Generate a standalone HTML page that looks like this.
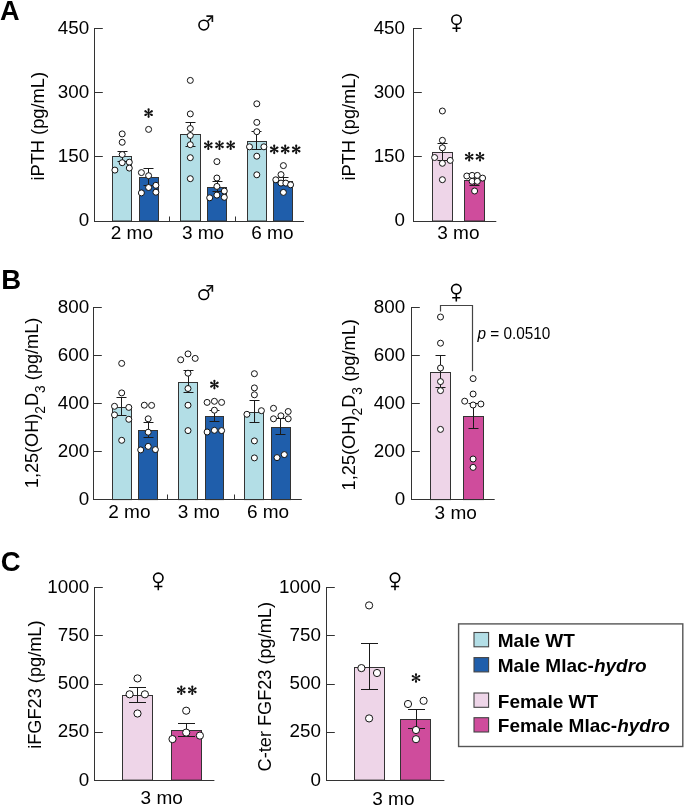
<!DOCTYPE html>
<html><head><meta charset="utf-8"><style>
html,body{margin:0;padding:0;background:#fff;}
svg{display:block;font-family:"Liberation Sans",sans-serif;}
.g{will-change:transform;}
text{fill:#000;}
</style></head><body>
<svg width="685" height="807" viewBox="0 0 685 807">
<g class="g">
<text x="0.1" y="20.4" font-size="28" font-weight="bold" textLength="19.6" lengthAdjust="spacingAndGlyphs">A</text>
<rect x="112.50" y="156.50" width="19.00" height="64.50" fill="#b3dee6" stroke="#333" stroke-width="1.0"/>
<rect x="139.50" y="177.50" width="19.00" height="43.50" fill="#1f5eab" stroke="#333" stroke-width="1.0"/>
<rect x="180.50" y="134.50" width="20.00" height="86.50" fill="#b3dee6" stroke="#333" stroke-width="1.0"/>
<rect x="207.50" y="187.50" width="19.00" height="33.50" fill="#1f5eab" stroke="#333" stroke-width="1.0"/>
<rect x="247.50" y="141.50" width="19.00" height="79.50" fill="#b3dee6" stroke="#333" stroke-width="1.0"/>
<rect x="273.50" y="181.50" width="19.00" height="39.50" fill="#1f5eab" stroke="#333" stroke-width="1.0"/>
<line x1="122.50" y1="151.50" x2="122.50" y2="161.50" stroke="#1a1a1a" stroke-width="1.05" stroke-linecap="butt"/>
<line x1="117.50" y1="151.50" x2="127.50" y2="151.50" stroke="#1a1a1a" stroke-width="1.05" stroke-linecap="butt"/>
<line x1="117.50" y1="161.50" x2="127.50" y2="161.50" stroke="#1a1a1a" stroke-width="1.05" stroke-linecap="butt"/>
<line x1="148.50" y1="168.50" x2="148.50" y2="185.50" stroke="#1a1a1a" stroke-width="1.05" stroke-linecap="butt"/>
<line x1="143.50" y1="168.50" x2="153.50" y2="168.50" stroke="#1a1a1a" stroke-width="1.05" stroke-linecap="butt"/>
<line x1="143.50" y1="185.50" x2="153.50" y2="185.50" stroke="#1a1a1a" stroke-width="1.05" stroke-linecap="butt"/>
<line x1="190.50" y1="122.50" x2="190.50" y2="146.50" stroke="#1a1a1a" stroke-width="1.05" stroke-linecap="butt"/>
<line x1="185.50" y1="122.50" x2="195.50" y2="122.50" stroke="#1a1a1a" stroke-width="1.05" stroke-linecap="butt"/>
<line x1="185.50" y1="146.50" x2="195.50" y2="146.50" stroke="#1a1a1a" stroke-width="1.05" stroke-linecap="butt"/>
<line x1="217.50" y1="181.50" x2="217.50" y2="191.50" stroke="#1a1a1a" stroke-width="1.05" stroke-linecap="butt"/>
<line x1="212.50" y1="181.50" x2="222.50" y2="181.50" stroke="#1a1a1a" stroke-width="1.05" stroke-linecap="butt"/>
<line x1="212.50" y1="191.50" x2="222.50" y2="191.50" stroke="#1a1a1a" stroke-width="1.05" stroke-linecap="butt"/>
<line x1="256.50" y1="131.50" x2="256.50" y2="149.50" stroke="#1a1a1a" stroke-width="1.05" stroke-linecap="butt"/>
<line x1="251.50" y1="131.50" x2="261.50" y2="131.50" stroke="#1a1a1a" stroke-width="1.05" stroke-linecap="butt"/>
<line x1="251.50" y1="149.50" x2="261.50" y2="149.50" stroke="#1a1a1a" stroke-width="1.05" stroke-linecap="butt"/>
<line x1="283.50" y1="177.50" x2="283.50" y2="184.50" stroke="#1a1a1a" stroke-width="1.05" stroke-linecap="butt"/>
<line x1="278.50" y1="177.50" x2="288.50" y2="177.50" stroke="#1a1a1a" stroke-width="1.05" stroke-linecap="butt"/>
<line x1="278.50" y1="184.50" x2="288.50" y2="184.50" stroke="#1a1a1a" stroke-width="1.05" stroke-linecap="butt"/>
<circle cx="122.20" cy="133.90" r="3.0" fill="#fff" stroke="#111" stroke-width="1.0"/>
<circle cx="122.20" cy="142.30" r="3.0" fill="#fff" stroke="#111" stroke-width="1.0"/>
<circle cx="122.20" cy="154.50" r="3.0" fill="#fff" stroke="#111" stroke-width="1.0"/>
<circle cx="122.20" cy="162.70" r="3.0" fill="#fff" stroke="#111" stroke-width="1.0"/>
<circle cx="129.30" cy="162.20" r="3.0" fill="#fff" stroke="#111" stroke-width="1.0"/>
<circle cx="129.30" cy="168.10" r="3.0" fill="#fff" stroke="#111" stroke-width="1.0"/>
<circle cx="114.90" cy="170.10" r="3.0" fill="#fff" stroke="#111" stroke-width="1.0"/>
<circle cx="148.60" cy="129.40" r="3.0" fill="#fff" stroke="#111" stroke-width="1.0"/>
<circle cx="141.40" cy="172.60" r="3.0" fill="#fff" stroke="#111" stroke-width="1.0"/>
<circle cx="148.60" cy="175.70" r="3.0" fill="#fff" stroke="#111" stroke-width="1.0"/>
<circle cx="155.90" cy="185.30" r="3.0" fill="#fff" stroke="#111" stroke-width="1.0"/>
<circle cx="148.60" cy="187.50" r="3.0" fill="#fff" stroke="#111" stroke-width="1.0"/>
<circle cx="141.40" cy="192.90" r="3.0" fill="#fff" stroke="#111" stroke-width="1.0"/>
<circle cx="155.90" cy="192.20" r="3.0" fill="#fff" stroke="#111" stroke-width="1.0"/>
<circle cx="190.30" cy="80.40" r="3.0" fill="#fff" stroke="#111" stroke-width="1.0"/>
<circle cx="190.30" cy="113.90" r="3.0" fill="#fff" stroke="#111" stroke-width="1.0"/>
<circle cx="190.30" cy="128.50" r="3.0" fill="#fff" stroke="#111" stroke-width="1.0"/>
<circle cx="190.30" cy="135.50" r="3.0" fill="#fff" stroke="#111" stroke-width="1.0"/>
<circle cx="190.30" cy="144.70" r="3.0" fill="#fff" stroke="#111" stroke-width="1.0"/>
<circle cx="190.30" cy="157.70" r="3.0" fill="#fff" stroke="#111" stroke-width="1.0"/>
<circle cx="190.30" cy="178.70" r="3.0" fill="#fff" stroke="#111" stroke-width="1.0"/>
<circle cx="216.90" cy="161.60" r="3.0" fill="#fff" stroke="#111" stroke-width="1.0"/>
<circle cx="216.90" cy="178.00" r="3.0" fill="#fff" stroke="#111" stroke-width="1.0"/>
<circle cx="216.90" cy="186.40" r="3.0" fill="#fff" stroke="#111" stroke-width="1.0"/>
<circle cx="224.30" cy="191.10" r="3.0" fill="#fff" stroke="#111" stroke-width="1.0"/>
<circle cx="216.90" cy="195.10" r="3.0" fill="#fff" stroke="#111" stroke-width="1.0"/>
<circle cx="209.70" cy="197.80" r="3.0" fill="#fff" stroke="#111" stroke-width="1.0"/>
<circle cx="224.30" cy="197.30" r="3.0" fill="#fff" stroke="#111" stroke-width="1.0"/>
<circle cx="256.80" cy="103.80" r="3.0" fill="#fff" stroke="#111" stroke-width="1.0"/>
<circle cx="256.80" cy="122.40" r="3.0" fill="#fff" stroke="#111" stroke-width="1.0"/>
<circle cx="256.80" cy="131.70" r="3.0" fill="#fff" stroke="#111" stroke-width="1.0"/>
<circle cx="249.50" cy="146.80" r="3.0" fill="#fff" stroke="#111" stroke-width="1.0"/>
<circle cx="263.90" cy="146.80" r="3.0" fill="#fff" stroke="#111" stroke-width="1.0"/>
<circle cx="256.80" cy="156.20" r="3.0" fill="#fff" stroke="#111" stroke-width="1.0"/>
<circle cx="256.80" cy="174.80" r="3.0" fill="#fff" stroke="#111" stroke-width="1.0"/>
<circle cx="283.40" cy="165.60" r="3.0" fill="#fff" stroke="#111" stroke-width="1.0"/>
<circle cx="281.00" cy="174.60" r="3.0" fill="#fff" stroke="#111" stroke-width="1.0"/>
<circle cx="275.80" cy="179.80" r="3.0" fill="#fff" stroke="#111" stroke-width="1.0"/>
<circle cx="281.00" cy="183.10" r="3.0" fill="#fff" stroke="#111" stroke-width="1.0"/>
<circle cx="285.80" cy="183.10" r="3.0" fill="#fff" stroke="#111" stroke-width="1.0"/>
<circle cx="290.60" cy="184.80" r="3.0" fill="#fff" stroke="#111" stroke-width="1.0"/>
<circle cx="283.40" cy="192.40" r="3.0" fill="#fff" stroke="#111" stroke-width="1.0"/>
<line x1="94.50" y1="28.00" x2="94.50" y2="222.00" stroke="#333" stroke-width="1.0" stroke-linecap="butt"/>
<line x1="94.00" y1="221.50" x2="304.00" y2="221.50" stroke="#333" stroke-width="1.0" stroke-linecap="butt"/>
<line x1="94.50" y1="221.50" x2="102.80" y2="221.50" stroke="#333" stroke-width="1.0" stroke-linecap="butt"/>
<text x="89.10" y="226.40" font-size="18.8" text-anchor="end" font-weight="normal">0</text>
<line x1="94.50" y1="156.50" x2="102.80" y2="156.50" stroke="#333" stroke-width="1.0" stroke-linecap="butt"/>
<text x="89.10" y="162.23" font-size="18.8" text-anchor="end" font-weight="normal">150</text>
<line x1="94.50" y1="92.50" x2="102.80" y2="92.50" stroke="#333" stroke-width="1.0" stroke-linecap="butt"/>
<text x="89.10" y="98.07" font-size="18.8" text-anchor="end" font-weight="normal">300</text>
<line x1="94.50" y1="28.50" x2="102.80" y2="28.50" stroke="#333" stroke-width="1.0" stroke-linecap="butt"/>
<text x="89.10" y="33.90" font-size="18.8" text-anchor="end" font-weight="normal">450</text>
<line x1="169.50" y1="216.50" x2="169.50" y2="221.50" stroke="#333" stroke-width="1.0" stroke-linecap="butt"/>
<line x1="235.50" y1="216.50" x2="235.50" y2="221.50" stroke="#333" stroke-width="1.0" stroke-linecap="butt"/>
<path d="M148.92,113.10L149.71,109.39A1.11,1.11 0 1 0 147.49,109.39L148.28,113.10ZM148.28,113.10L147.49,116.81A1.11,1.11 0 1 0 149.71,116.81L148.92,113.10ZM148.76,113.38L152.37,112.21A1.11,1.11 0 1 0 151.26,110.28L148.44,112.82ZM148.44,112.82L144.83,113.99A1.11,1.11 0 1 0 145.94,115.92L148.76,113.38ZM148.76,112.82L145.94,110.28A1.11,1.11 0 1 0 144.83,112.21L148.44,113.38ZM148.44,113.38L151.26,115.92A1.11,1.11 0 1 0 152.37,113.99L148.76,112.82Z" fill="#111"/>
<circle cx="148.60" cy="113.10" r="0.8" fill="#111"/>
<path d="M208.62,145.20L209.41,141.49A1.11,1.11 0 1 0 207.19,141.49L207.98,145.20ZM207.98,145.20L207.19,148.91A1.11,1.11 0 1 0 209.41,148.91L208.62,145.20ZM208.46,145.48L212.07,144.31A1.11,1.11 0 1 0 210.96,142.38L208.14,144.92ZM208.14,144.92L204.53,146.09A1.11,1.11 0 1 0 205.64,148.02L208.46,145.48ZM208.46,144.92L205.64,142.38A1.11,1.11 0 1 0 204.53,144.31L208.14,145.48ZM208.14,145.48L210.96,148.02A1.11,1.11 0 1 0 212.07,146.09L208.46,144.92Z" fill="#111"/>
<circle cx="208.30" cy="145.20" r="0.8" fill="#111"/>
<path d="M219.82,145.20L220.61,141.49A1.11,1.11 0 1 0 218.39,141.49L219.18,145.20ZM219.18,145.20L218.39,148.91A1.11,1.11 0 1 0 220.61,148.91L219.82,145.20ZM219.66,145.48L223.27,144.31A1.11,1.11 0 1 0 222.16,142.38L219.34,144.92ZM219.34,144.92L215.73,146.09A1.11,1.11 0 1 0 216.84,148.02L219.66,145.48ZM219.66,144.92L216.84,142.38A1.11,1.11 0 1 0 215.73,144.31L219.34,145.48ZM219.34,145.48L222.16,148.02A1.11,1.11 0 1 0 223.27,146.09L219.66,144.92Z" fill="#111"/>
<circle cx="219.50" cy="145.20" r="0.8" fill="#111"/>
<path d="M231.02,145.20L231.81,141.49A1.11,1.11 0 1 0 229.59,141.49L230.38,145.20ZM230.38,145.20L229.59,148.91A1.11,1.11 0 1 0 231.81,148.91L231.02,145.20ZM230.86,145.48L234.47,144.31A1.11,1.11 0 1 0 233.36,142.38L230.54,144.92ZM230.54,144.92L226.93,146.09A1.11,1.11 0 1 0 228.04,148.02L230.86,145.48ZM230.86,144.92L228.04,142.38A1.11,1.11 0 1 0 226.93,144.31L230.54,145.48ZM230.54,145.48L233.36,148.02A1.11,1.11 0 1 0 234.47,146.09L230.86,144.92Z" fill="#111"/>
<circle cx="230.70" cy="145.20" r="0.8" fill="#111"/>
<path d="M274.52,149.40L275.31,145.69A1.11,1.11 0 1 0 273.09,145.69L273.88,149.40ZM273.88,149.40L273.09,153.11A1.11,1.11 0 1 0 275.31,153.11L274.52,149.40ZM274.36,149.68L277.97,148.51A1.11,1.11 0 1 0 276.86,146.58L274.04,149.12ZM274.04,149.12L270.43,150.29A1.11,1.11 0 1 0 271.54,152.22L274.36,149.68ZM274.36,149.12L271.54,146.58A1.11,1.11 0 1 0 270.43,148.51L274.04,149.68ZM274.04,149.68L276.86,152.22A1.11,1.11 0 1 0 277.97,150.29L274.36,149.12Z" fill="#111"/>
<circle cx="274.20" cy="149.40" r="0.8" fill="#111"/>
<path d="M285.52,149.40L286.31,145.69A1.11,1.11 0 1 0 284.09,145.69L284.88,149.40ZM284.88,149.40L284.09,153.11A1.11,1.11 0 1 0 286.31,153.11L285.52,149.40ZM285.36,149.68L288.97,148.51A1.11,1.11 0 1 0 287.86,146.58L285.04,149.12ZM285.04,149.12L281.43,150.29A1.11,1.11 0 1 0 282.54,152.22L285.36,149.68ZM285.36,149.12L282.54,146.58A1.11,1.11 0 1 0 281.43,148.51L285.04,149.68ZM285.04,149.68L287.86,152.22A1.11,1.11 0 1 0 288.97,150.29L285.36,149.12Z" fill="#111"/>
<circle cx="285.20" cy="149.40" r="0.8" fill="#111"/>
<path d="M296.52,149.40L297.31,145.69A1.11,1.11 0 1 0 295.09,145.69L295.88,149.40ZM295.88,149.40L295.09,153.11A1.11,1.11 0 1 0 297.31,153.11L296.52,149.40ZM296.36,149.68L299.97,148.51A1.11,1.11 0 1 0 298.86,146.58L296.04,149.12ZM296.04,149.12L292.43,150.29A1.11,1.11 0 1 0 293.54,152.22L296.36,149.68ZM296.36,149.12L293.54,146.58A1.11,1.11 0 1 0 292.43,148.51L296.04,149.68ZM296.04,149.68L298.86,152.22A1.11,1.11 0 1 0 299.97,150.29L296.36,149.12Z" fill="#111"/>
<circle cx="296.20" cy="149.40" r="0.8" fill="#111"/>
<circle cx="203.8" cy="25.1" r="4.85" fill="none" stroke="#000" stroke-width="1.55"/>
<path d="M207.30,21.60L212.20,16.70" stroke="#111" stroke-width="1.45"/>
<path d="M206.40,16.10L212.40,16.10L212.40,22.10" stroke="#111" stroke-width="1.6" fill="none"/>
<text transform="translate(43.60,180.60) rotate(-90)" x="0" y="0" font-size="19" textLength="108.7" lengthAdjust="spacingAndGlyphs">iPTH (pg/mL)</text>
<text x="131.90" y="238.70" font-size="19" text-anchor="middle" font-weight="normal">2 mo</text>
<text x="203.00" y="238.70" font-size="19" text-anchor="middle" font-weight="normal">3 mo</text>
<text x="272.40" y="238.70" font-size="19" text-anchor="middle" font-weight="normal">6 mo</text>
<rect x="432.50" y="152.50" width="20.00" height="68.50" fill="#eed5e8" stroke="#333" stroke-width="1.0"/>
<rect x="464.50" y="180.50" width="20.00" height="40.50" fill="#cf4c9c" stroke="#333" stroke-width="1.0"/>
<line x1="442.50" y1="143.50" x2="442.50" y2="160.50" stroke="#1a1a1a" stroke-width="1.05" stroke-linecap="butt"/>
<line x1="437.50" y1="143.50" x2="447.50" y2="143.50" stroke="#1a1a1a" stroke-width="1.05" stroke-linecap="butt"/>
<line x1="437.50" y1="160.50" x2="447.50" y2="160.50" stroke="#1a1a1a" stroke-width="1.05" stroke-linecap="butt"/>
<line x1="474.50" y1="175.50" x2="474.50" y2="185.50" stroke="#1a1a1a" stroke-width="1.05" stroke-linecap="butt"/>
<line x1="469.50" y1="175.50" x2="479.50" y2="175.50" stroke="#1a1a1a" stroke-width="1.05" stroke-linecap="butt"/>
<line x1="469.50" y1="185.50" x2="479.50" y2="185.50" stroke="#1a1a1a" stroke-width="1.05" stroke-linecap="butt"/>
<circle cx="442.40" cy="111.00" r="3.0" fill="#fff" stroke="#111" stroke-width="1.0"/>
<circle cx="442.40" cy="140.30" r="3.0" fill="#fff" stroke="#111" stroke-width="1.0"/>
<circle cx="442.40" cy="147.80" r="3.0" fill="#fff" stroke="#111" stroke-width="1.0"/>
<circle cx="434.60" cy="157.50" r="3.0" fill="#fff" stroke="#111" stroke-width="1.0"/>
<circle cx="450.20" cy="160.40" r="3.0" fill="#fff" stroke="#111" stroke-width="1.0"/>
<circle cx="442.40" cy="163.30" r="3.0" fill="#fff" stroke="#111" stroke-width="1.0"/>
<circle cx="442.40" cy="179.70" r="3.0" fill="#fff" stroke="#111" stroke-width="1.0"/>
<circle cx="466.80" cy="176.00" r="3.0" fill="#fff" stroke="#111" stroke-width="1.0"/>
<circle cx="472.10" cy="175.40" r="3.0" fill="#fff" stroke="#111" stroke-width="1.0"/>
<circle cx="477.30" cy="175.40" r="3.0" fill="#fff" stroke="#111" stroke-width="1.0"/>
<circle cx="482.60" cy="178.10" r="3.0" fill="#fff" stroke="#111" stroke-width="1.0"/>
<circle cx="472.10" cy="181.30" r="3.0" fill="#fff" stroke="#111" stroke-width="1.0"/>
<circle cx="477.30" cy="181.30" r="3.0" fill="#fff" stroke="#111" stroke-width="1.0"/>
<circle cx="474.60" cy="191.00" r="3.0" fill="#fff" stroke="#111" stroke-width="1.0"/>
<line x1="413.50" y1="28.00" x2="413.50" y2="222.00" stroke="#333" stroke-width="1.0" stroke-linecap="butt"/>
<line x1="413.00" y1="221.50" x2="496.30" y2="221.50" stroke="#333" stroke-width="1.0" stroke-linecap="butt"/>
<line x1="413.50" y1="221.50" x2="421.80" y2="221.50" stroke="#333" stroke-width="1.0" stroke-linecap="butt"/>
<text x="405.00" y="226.40" font-size="18.8" text-anchor="end" font-weight="normal">0</text>
<line x1="413.50" y1="156.50" x2="421.80" y2="156.50" stroke="#333" stroke-width="1.0" stroke-linecap="butt"/>
<text x="405.00" y="162.23" font-size="18.8" text-anchor="end" font-weight="normal">150</text>
<line x1="413.50" y1="92.50" x2="421.80" y2="92.50" stroke="#333" stroke-width="1.0" stroke-linecap="butt"/>
<text x="405.00" y="98.07" font-size="18.8" text-anchor="end" font-weight="normal">300</text>
<line x1="413.50" y1="28.50" x2="421.80" y2="28.50" stroke="#333" stroke-width="1.0" stroke-linecap="butt"/>
<text x="405.00" y="33.90" font-size="18.8" text-anchor="end" font-weight="normal">450</text>
<path d="M469.52,156.70L470.31,152.99A1.11,1.11 0 1 0 468.09,152.99L468.88,156.70ZM468.88,156.70L468.09,160.41A1.11,1.11 0 1 0 470.31,160.41L469.52,156.70ZM469.36,156.98L472.97,155.81A1.11,1.11 0 1 0 471.86,153.88L469.04,156.42ZM469.04,156.42L465.43,157.59A1.11,1.11 0 1 0 466.54,159.52L469.36,156.98ZM469.36,156.42L466.54,153.88A1.11,1.11 0 1 0 465.43,155.81L469.04,156.98ZM469.04,156.98L471.86,159.52A1.11,1.11 0 1 0 472.97,157.59L469.36,156.42Z" fill="#111"/>
<circle cx="469.20" cy="156.70" r="0.8" fill="#111"/>
<path d="M480.32,156.70L481.11,152.99A1.11,1.11 0 1 0 478.89,152.99L479.68,156.70ZM479.68,156.70L478.89,160.41A1.11,1.11 0 1 0 481.11,160.41L480.32,156.70ZM480.16,156.98L483.77,155.81A1.11,1.11 0 1 0 482.66,153.88L479.84,156.42ZM479.84,156.42L476.23,157.59A1.11,1.11 0 1 0 477.34,159.52L480.16,156.98ZM480.16,156.42L477.34,153.88A1.11,1.11 0 1 0 476.23,155.81L479.84,156.98ZM479.84,156.98L482.66,159.52A1.11,1.11 0 1 0 483.77,157.59L480.16,156.42Z" fill="#111"/>
<circle cx="480.00" cy="156.70" r="0.8" fill="#111"/>
<circle cx="456.5" cy="19.7" r="4.7" fill="none" stroke="#000" stroke-width="1.6"/>
<path d="M456.50,24.50L456.50,32.10M452.40,28.30L460.60,28.30" stroke="#000" stroke-width="1.55"/>
<text transform="translate(355.20,180.60) rotate(-90)" x="0" y="0" font-size="19" textLength="108.0" lengthAdjust="spacingAndGlyphs">iPTH (pg/mL)</text>
<text x="458.40" y="238.90" font-size="19" text-anchor="middle" font-weight="normal">3 mo</text>
<text x="1.2" y="288.6" font-size="27.5" font-weight="bold">B</text>
<rect x="112.50" y="407.50" width="19.00" height="92.10" fill="#b3dee6" stroke="#333" stroke-width="1.0"/>
<rect x="138.50" y="430.50" width="19.00" height="69.10" fill="#1f5eab" stroke="#333" stroke-width="1.0"/>
<rect x="178.50" y="382.50" width="19.00" height="117.10" fill="#b3dee6" stroke="#333" stroke-width="1.0"/>
<rect x="205.50" y="416.50" width="18.00" height="83.10" fill="#1f5eab" stroke="#333" stroke-width="1.0"/>
<rect x="244.50" y="412.50" width="19.00" height="87.10" fill="#b3dee6" stroke="#333" stroke-width="1.0"/>
<rect x="271.50" y="427.50" width="19.00" height="72.10" fill="#1f5eab" stroke="#333" stroke-width="1.0"/>
<line x1="121.50" y1="397.50" x2="121.50" y2="415.50" stroke="#1a1a1a" stroke-width="1.05" stroke-linecap="butt"/>
<line x1="116.50" y1="397.50" x2="126.50" y2="397.50" stroke="#1a1a1a" stroke-width="1.05" stroke-linecap="butt"/>
<line x1="116.50" y1="415.50" x2="126.50" y2="415.50" stroke="#1a1a1a" stroke-width="1.05" stroke-linecap="butt"/>
<line x1="148.50" y1="422.50" x2="148.50" y2="437.50" stroke="#1a1a1a" stroke-width="1.05" stroke-linecap="butt"/>
<line x1="143.50" y1="422.50" x2="153.50" y2="422.50" stroke="#1a1a1a" stroke-width="1.05" stroke-linecap="butt"/>
<line x1="143.50" y1="437.50" x2="153.50" y2="437.50" stroke="#1a1a1a" stroke-width="1.05" stroke-linecap="butt"/>
<line x1="188.50" y1="370.50" x2="188.50" y2="392.50" stroke="#1a1a1a" stroke-width="1.05" stroke-linecap="butt"/>
<line x1="183.50" y1="370.50" x2="193.50" y2="370.50" stroke="#1a1a1a" stroke-width="1.05" stroke-linecap="butt"/>
<line x1="183.50" y1="392.50" x2="193.50" y2="392.50" stroke="#1a1a1a" stroke-width="1.05" stroke-linecap="butt"/>
<line x1="214.50" y1="410.50" x2="214.50" y2="421.50" stroke="#1a1a1a" stroke-width="1.05" stroke-linecap="butt"/>
<line x1="209.50" y1="410.50" x2="219.50" y2="410.50" stroke="#1a1a1a" stroke-width="1.05" stroke-linecap="butt"/>
<line x1="209.50" y1="421.50" x2="219.50" y2="421.50" stroke="#1a1a1a" stroke-width="1.05" stroke-linecap="butt"/>
<line x1="254.50" y1="400.50" x2="254.50" y2="422.50" stroke="#1a1a1a" stroke-width="1.05" stroke-linecap="butt"/>
<line x1="249.50" y1="400.50" x2="259.50" y2="400.50" stroke="#1a1a1a" stroke-width="1.05" stroke-linecap="butt"/>
<line x1="249.50" y1="422.50" x2="259.50" y2="422.50" stroke="#1a1a1a" stroke-width="1.05" stroke-linecap="butt"/>
<line x1="280.50" y1="418.50" x2="280.50" y2="434.50" stroke="#1a1a1a" stroke-width="1.05" stroke-linecap="butt"/>
<line x1="275.50" y1="418.50" x2="285.50" y2="418.50" stroke="#1a1a1a" stroke-width="1.05" stroke-linecap="butt"/>
<line x1="275.50" y1="434.50" x2="285.50" y2="434.50" stroke="#1a1a1a" stroke-width="1.05" stroke-linecap="butt"/>
<circle cx="121.70" cy="363.40" r="3.0" fill="#fff" stroke="#111" stroke-width="1.0"/>
<circle cx="121.70" cy="392.90" r="3.0" fill="#fff" stroke="#111" stroke-width="1.0"/>
<circle cx="114.50" cy="406.30" r="3.0" fill="#fff" stroke="#111" stroke-width="1.0"/>
<circle cx="128.80" cy="407.40" r="3.0" fill="#fff" stroke="#111" stroke-width="1.0"/>
<circle cx="114.50" cy="414.90" r="3.0" fill="#fff" stroke="#111" stroke-width="1.0"/>
<circle cx="128.80" cy="419.30" r="3.0" fill="#fff" stroke="#111" stroke-width="1.0"/>
<circle cx="121.70" cy="440.30" r="3.0" fill="#fff" stroke="#111" stroke-width="1.0"/>
<circle cx="144.30" cy="405.20" r="3.0" fill="#fff" stroke="#111" stroke-width="1.0"/>
<circle cx="151.60" cy="405.40" r="3.0" fill="#fff" stroke="#111" stroke-width="1.0"/>
<circle cx="148.20" cy="418.80" r="3.0" fill="#fff" stroke="#111" stroke-width="1.0"/>
<circle cx="148.20" cy="432.20" r="3.0" fill="#fff" stroke="#111" stroke-width="1.0"/>
<circle cx="148.20" cy="446.40" r="3.0" fill="#fff" stroke="#111" stroke-width="1.0"/>
<circle cx="140.70" cy="449.90" r="3.0" fill="#fff" stroke="#111" stroke-width="1.0"/>
<circle cx="155.40" cy="449.60" r="3.0" fill="#fff" stroke="#111" stroke-width="1.0"/>
<circle cx="188.00" cy="353.90" r="3.0" fill="#fff" stroke="#111" stroke-width="1.0"/>
<circle cx="180.70" cy="359.80" r="3.0" fill="#fff" stroke="#111" stroke-width="1.0"/>
<circle cx="195.20" cy="358.40" r="3.0" fill="#fff" stroke="#111" stroke-width="1.0"/>
<circle cx="188.00" cy="373.20" r="3.0" fill="#fff" stroke="#111" stroke-width="1.0"/>
<circle cx="188.00" cy="388.50" r="3.0" fill="#fff" stroke="#111" stroke-width="1.0"/>
<circle cx="188.00" cy="405.20" r="3.0" fill="#fff" stroke="#111" stroke-width="1.0"/>
<circle cx="188.00" cy="430.60" r="3.0" fill="#fff" stroke="#111" stroke-width="1.0"/>
<circle cx="207.10" cy="402.40" r="3.0" fill="#fff" stroke="#111" stroke-width="1.0"/>
<circle cx="214.40" cy="401.30" r="3.0" fill="#fff" stroke="#111" stroke-width="1.0"/>
<circle cx="221.60" cy="402.40" r="3.0" fill="#fff" stroke="#111" stroke-width="1.0"/>
<circle cx="214.40" cy="410.20" r="3.0" fill="#fff" stroke="#111" stroke-width="1.0"/>
<circle cx="207.10" cy="432.00" r="3.0" fill="#fff" stroke="#111" stroke-width="1.0"/>
<circle cx="214.40" cy="430.30" r="3.0" fill="#fff" stroke="#111" stroke-width="1.0"/>
<circle cx="221.60" cy="430.60" r="3.0" fill="#fff" stroke="#111" stroke-width="1.0"/>
<circle cx="254.40" cy="373.70" r="3.0" fill="#fff" stroke="#111" stroke-width="1.0"/>
<circle cx="254.40" cy="387.90" r="3.0" fill="#fff" stroke="#111" stroke-width="1.0"/>
<circle cx="254.40" cy="394.80" r="3.0" fill="#fff" stroke="#111" stroke-width="1.0"/>
<circle cx="261.40" cy="410.70" r="3.0" fill="#fff" stroke="#111" stroke-width="1.0"/>
<circle cx="246.90" cy="414.30" r="3.0" fill="#fff" stroke="#111" stroke-width="1.0"/>
<circle cx="254.40" cy="440.90" r="3.0" fill="#fff" stroke="#111" stroke-width="1.0"/>
<circle cx="254.40" cy="457.90" r="3.0" fill="#fff" stroke="#111" stroke-width="1.0"/>
<circle cx="273.50" cy="408.30" r="3.0" fill="#fff" stroke="#111" stroke-width="1.0"/>
<circle cx="288.20" cy="411.50" r="3.0" fill="#fff" stroke="#111" stroke-width="1.0"/>
<circle cx="280.90" cy="415.80" r="3.0" fill="#fff" stroke="#111" stroke-width="1.0"/>
<circle cx="273.50" cy="418.80" r="3.0" fill="#fff" stroke="#111" stroke-width="1.0"/>
<circle cx="288.20" cy="418.80" r="3.0" fill="#fff" stroke="#111" stroke-width="1.0"/>
<circle cx="277.00" cy="457.60" r="3.0" fill="#fff" stroke="#111" stroke-width="1.0"/>
<circle cx="284.30" cy="454.60" r="3.0" fill="#fff" stroke="#111" stroke-width="1.0"/>
<line x1="93.50" y1="307.00" x2="93.50" y2="500.00" stroke="#333" stroke-width="1.0" stroke-linecap="butt"/>
<line x1="93.00" y1="499.50" x2="301.80" y2="499.50" stroke="#333" stroke-width="1.0" stroke-linecap="butt"/>
<line x1="93.50" y1="499.50" x2="101.80" y2="499.50" stroke="#333" stroke-width="1.0" stroke-linecap="butt"/>
<text x="89.20" y="505.00" font-size="18.8" text-anchor="end" font-weight="normal">0</text>
<line x1="93.50" y1="451.50" x2="101.80" y2="451.50" stroke="#333" stroke-width="1.0" stroke-linecap="butt"/>
<text x="89.20" y="456.95" font-size="18.8" text-anchor="end" font-weight="normal">200</text>
<line x1="93.50" y1="403.50" x2="101.80" y2="403.50" stroke="#333" stroke-width="1.0" stroke-linecap="butt"/>
<text x="89.20" y="408.90" font-size="18.8" text-anchor="end" font-weight="normal">400</text>
<line x1="93.50" y1="355.50" x2="101.80" y2="355.50" stroke="#333" stroke-width="1.0" stroke-linecap="butt"/>
<text x="89.20" y="360.85" font-size="18.8" text-anchor="end" font-weight="normal">600</text>
<line x1="93.50" y1="307.50" x2="101.80" y2="307.50" stroke="#333" stroke-width="1.0" stroke-linecap="butt"/>
<text x="89.20" y="312.80" font-size="18.8" text-anchor="end" font-weight="normal">800</text>
<line x1="167.50" y1="494.50" x2="167.50" y2="499.50" stroke="#333" stroke-width="1.0" stroke-linecap="butt"/>
<line x1="234.50" y1="494.50" x2="234.50" y2="499.50" stroke="#333" stroke-width="1.0" stroke-linecap="butt"/>
<path d="M214.72,384.60L215.51,380.89A1.11,1.11 0 1 0 213.29,380.89L214.08,384.60ZM214.08,384.60L213.29,388.31A1.11,1.11 0 1 0 215.51,388.31L214.72,384.60ZM214.56,384.88L218.17,383.71A1.11,1.11 0 1 0 217.06,381.78L214.24,384.32ZM214.24,384.32L210.63,385.49A1.11,1.11 0 1 0 211.74,387.42L214.56,384.88ZM214.56,384.32L211.74,381.78A1.11,1.11 0 1 0 210.63,383.71L214.24,384.88ZM214.24,384.88L217.06,387.42A1.11,1.11 0 1 0 218.17,385.49L214.56,384.32Z" fill="#111"/>
<circle cx="214.40" cy="384.60" r="0.8" fill="#111"/>
<circle cx="203.8" cy="294.7" r="4.85" fill="none" stroke="#000" stroke-width="1.55"/>
<path d="M207.30,291.20L212.20,286.30" stroke="#111" stroke-width="1.45"/>
<path d="M206.40,285.70L212.40,285.70L212.40,291.70" stroke="#111" stroke-width="1.6" fill="none"/>
<text transform="translate(38.20,488.20) rotate(-90)" x="0" y="0" font-size="19" textLength="170.5" lengthAdjust="spacingAndGlyphs">1,25(OH)<tspan font-size="14.5" dy="6.8">2</tspan><tspan dy="-6.8">D</tspan><tspan font-size="14.5" dy="6.8">3</tspan><tspan dy="-6.8"> (pg/mL)</tspan></text>
<text x="129.40" y="518.40" font-size="19" text-anchor="middle" font-weight="normal">2 mo</text>
<text x="198.80" y="518.40" font-size="19" text-anchor="middle" font-weight="normal">3 mo</text>
<text x="268.00" y="518.40" font-size="19" text-anchor="middle" font-weight="normal">6 mo</text>
<rect x="430.50" y="372.50" width="20.00" height="127.10" fill="#eed5e8" stroke="#333" stroke-width="1.0"/>
<rect x="463.50" y="416.50" width="20.00" height="83.10" fill="#cf4c9c" stroke="#333" stroke-width="1.0"/>
<line x1="440.50" y1="355.50" x2="440.50" y2="387.50" stroke="#1a1a1a" stroke-width="1.05" stroke-linecap="butt"/>
<line x1="435.50" y1="355.50" x2="445.50" y2="355.50" stroke="#1a1a1a" stroke-width="1.05" stroke-linecap="butt"/>
<line x1="435.50" y1="387.50" x2="445.50" y2="387.50" stroke="#1a1a1a" stroke-width="1.05" stroke-linecap="butt"/>
<line x1="473.50" y1="403.50" x2="473.50" y2="428.50" stroke="#1a1a1a" stroke-width="1.05" stroke-linecap="butt"/>
<line x1="468.50" y1="403.50" x2="478.50" y2="403.50" stroke="#1a1a1a" stroke-width="1.05" stroke-linecap="butt"/>
<line x1="468.50" y1="428.50" x2="478.50" y2="428.50" stroke="#1a1a1a" stroke-width="1.05" stroke-linecap="butt"/>
<circle cx="440.50" cy="317.00" r="3.0" fill="#fff" stroke="#111" stroke-width="1.0"/>
<circle cx="440.50" cy="343.20" r="3.0" fill="#fff" stroke="#111" stroke-width="1.0"/>
<circle cx="440.50" cy="368.00" r="3.0" fill="#fff" stroke="#111" stroke-width="1.0"/>
<circle cx="440.50" cy="381.60" r="3.0" fill="#fff" stroke="#111" stroke-width="1.0"/>
<circle cx="440.50" cy="390.60" r="3.0" fill="#fff" stroke="#111" stroke-width="1.0"/>
<circle cx="440.50" cy="429.40" r="3.0" fill="#fff" stroke="#111" stroke-width="1.0"/>
<circle cx="473.10" cy="378.60" r="3.0" fill="#fff" stroke="#111" stroke-width="1.0"/>
<circle cx="473.10" cy="394.00" r="3.0" fill="#fff" stroke="#111" stroke-width="1.0"/>
<circle cx="464.70" cy="401.20" r="3.0" fill="#fff" stroke="#111" stroke-width="1.0"/>
<circle cx="473.10" cy="405.00" r="3.0" fill="#fff" stroke="#111" stroke-width="1.0"/>
<circle cx="480.90" cy="404.00" r="3.0" fill="#fff" stroke="#111" stroke-width="1.0"/>
<circle cx="473.10" cy="459.00" r="3.0" fill="#fff" stroke="#111" stroke-width="1.0"/>
<circle cx="473.10" cy="467.40" r="3.0" fill="#fff" stroke="#111" stroke-width="1.0"/>
<line x1="411.50" y1="307.00" x2="411.50" y2="500.00" stroke="#333" stroke-width="1.0" stroke-linecap="butt"/>
<line x1="411.00" y1="499.50" x2="494.70" y2="499.50" stroke="#333" stroke-width="1.0" stroke-linecap="butt"/>
<line x1="411.50" y1="499.50" x2="419.80" y2="499.50" stroke="#333" stroke-width="1.0" stroke-linecap="butt"/>
<text x="405.20" y="505.00" font-size="18.8" text-anchor="end" font-weight="normal">0</text>
<line x1="411.50" y1="451.50" x2="419.80" y2="451.50" stroke="#333" stroke-width="1.0" stroke-linecap="butt"/>
<text x="405.20" y="456.95" font-size="18.8" text-anchor="end" font-weight="normal">200</text>
<line x1="411.50" y1="403.50" x2="419.80" y2="403.50" stroke="#333" stroke-width="1.0" stroke-linecap="butt"/>
<text x="405.20" y="408.90" font-size="18.8" text-anchor="end" font-weight="normal">400</text>
<line x1="411.50" y1="355.50" x2="419.80" y2="355.50" stroke="#333" stroke-width="1.0" stroke-linecap="butt"/>
<text x="405.20" y="360.85" font-size="18.8" text-anchor="end" font-weight="normal">600</text>
<line x1="411.50" y1="307.50" x2="419.80" y2="307.50" stroke="#333" stroke-width="1.0" stroke-linecap="butt"/>
<text x="405.20" y="312.80" font-size="18.8" text-anchor="end" font-weight="normal">800</text>
<path d="M440.5,311.4V305.5H472.5V371.2" fill="none" stroke="#444" stroke-width="1.2"/>
<circle cx="456.3" cy="289.1" r="4.7" fill="none" stroke="#000" stroke-width="1.6"/>
<path d="M456.30,293.90L456.30,301.50M452.20,297.70L460.40,297.70" stroke="#000" stroke-width="1.55"/>
<text x="477.4" y="338.7" font-size="16.4" textLength="73.0" lengthAdjust="spacingAndGlyphs"><tspan font-style="italic">p</tspan> = 0.0510</text>
<text transform="translate(355.00,490.40) rotate(-90)" x="0" y="0" font-size="19" textLength="171.3" lengthAdjust="spacingAndGlyphs">1,25(OH)<tspan font-size="14.5" dy="6.8">2</tspan><tspan dy="-6.8">D</tspan><tspan font-size="14.5" dy="6.8">3</tspan><tspan dy="-6.8"> (pg/mL)</tspan></text>
<text x="455.70" y="518.80" font-size="19" text-anchor="middle" font-weight="normal">3 mo</text>
<text x="0.8" y="571.0" font-size="27.5" font-weight="bold">C</text>
<rect x="122.50" y="695.50" width="30.00" height="84.60" fill="#eed5e8" stroke="#333" stroke-width="1.0"/>
<rect x="171.50" y="730.50" width="30.00" height="49.60" fill="#cf4c9c" stroke="#333" stroke-width="1.0"/>
<line x1="137.50" y1="687.50" x2="137.50" y2="702.50" stroke="#1a1a1a" stroke-width="1.05" stroke-linecap="butt"/>
<line x1="129.00" y1="687.50" x2="146.00" y2="687.50" stroke="#1a1a1a" stroke-width="1.05" stroke-linecap="butt"/>
<line x1="129.00" y1="702.50" x2="146.00" y2="702.50" stroke="#1a1a1a" stroke-width="1.05" stroke-linecap="butt"/>
<line x1="186.50" y1="723.50" x2="186.50" y2="736.50" stroke="#1a1a1a" stroke-width="1.05" stroke-linecap="butt"/>
<line x1="178.00" y1="723.50" x2="195.00" y2="723.50" stroke="#1a1a1a" stroke-width="1.05" stroke-linecap="butt"/>
<line x1="178.00" y1="736.50" x2="195.00" y2="736.50" stroke="#1a1a1a" stroke-width="1.05" stroke-linecap="butt"/>
<circle cx="137.50" cy="678.40" r="3.6" fill="#fff" stroke="#111" stroke-width="1.0"/>
<circle cx="129.60" cy="694.30" r="3.6" fill="#fff" stroke="#111" stroke-width="1.0"/>
<circle cx="144.90" cy="694.30" r="3.6" fill="#fff" stroke="#111" stroke-width="1.0"/>
<circle cx="137.50" cy="713.50" r="3.6" fill="#fff" stroke="#111" stroke-width="1.0"/>
<circle cx="186.20" cy="710.70" r="3.6" fill="#fff" stroke="#111" stroke-width="1.0"/>
<circle cx="186.20" cy="732.60" r="3.6" fill="#fff" stroke="#111" stroke-width="1.0"/>
<circle cx="172.50" cy="739.10" r="3.6" fill="#fff" stroke="#111" stroke-width="1.0"/>
<circle cx="199.90" cy="735.60" r="3.6" fill="#fff" stroke="#111" stroke-width="1.0"/>
<line x1="94.50" y1="587.00" x2="94.50" y2="781.00" stroke="#333" stroke-width="1.0" stroke-linecap="butt"/>
<line x1="94.00" y1="780.50" x2="214.40" y2="780.50" stroke="#333" stroke-width="1.0" stroke-linecap="butt"/>
<line x1="94.50" y1="780.50" x2="102.80" y2="780.50" stroke="#333" stroke-width="1.0" stroke-linecap="butt"/>
<text x="89.10" y="785.50" font-size="18.8" text-anchor="end" font-weight="normal">0</text>
<line x1="94.50" y1="732.50" x2="102.80" y2="732.50" stroke="#333" stroke-width="1.0" stroke-linecap="butt"/>
<text x="89.10" y="737.45" font-size="18.8" text-anchor="end" font-weight="normal">250</text>
<line x1="94.50" y1="684.50" x2="102.80" y2="684.50" stroke="#333" stroke-width="1.0" stroke-linecap="butt"/>
<text x="89.10" y="689.40" font-size="18.8" text-anchor="end" font-weight="normal">500</text>
<line x1="94.50" y1="635.50" x2="102.80" y2="635.50" stroke="#333" stroke-width="1.0" stroke-linecap="butt"/>
<text x="89.10" y="641.35" font-size="18.8" text-anchor="end" font-weight="normal">750</text>
<line x1="94.50" y1="587.50" x2="102.80" y2="587.50" stroke="#333" stroke-width="1.0" stroke-linecap="butt"/>
<text x="89.10" y="593.30" font-size="18.8" text-anchor="end" font-weight="normal">1000</text>
<path d="M181.62,690.20L182.41,686.49A1.11,1.11 0 1 0 180.19,686.49L180.98,690.20ZM180.98,690.20L180.19,693.91A1.11,1.11 0 1 0 182.41,693.91L181.62,690.20ZM181.46,690.48L185.07,689.31A1.11,1.11 0 1 0 183.96,687.38L181.14,689.92ZM181.14,689.92L177.53,691.09A1.11,1.11 0 1 0 178.64,693.02L181.46,690.48ZM181.46,689.92L178.64,687.38A1.11,1.11 0 1 0 177.53,689.31L181.14,690.48ZM181.14,690.48L183.96,693.02A1.11,1.11 0 1 0 185.07,691.09L181.46,689.92Z" fill="#111"/>
<circle cx="181.30" cy="690.20" r="0.8" fill="#111"/>
<path d="M192.62,690.20L193.41,686.49A1.11,1.11 0 1 0 191.19,686.49L191.98,690.20ZM191.98,690.20L191.19,693.91A1.11,1.11 0 1 0 193.41,693.91L192.62,690.20ZM192.46,690.48L196.07,689.31A1.11,1.11 0 1 0 194.96,687.38L192.14,689.92ZM192.14,689.92L188.53,691.09A1.11,1.11 0 1 0 189.64,693.02L192.46,690.48ZM192.46,689.92L189.64,687.38A1.11,1.11 0 1 0 188.53,689.31L192.14,690.48ZM192.14,690.48L194.96,693.02A1.11,1.11 0 1 0 196.07,691.09L192.46,689.92Z" fill="#111"/>
<circle cx="192.30" cy="690.20" r="0.8" fill="#111"/>
<circle cx="158.3" cy="577.8" r="4.7" fill="none" stroke="#000" stroke-width="1.6"/>
<path d="M158.30,582.60L158.30,590.20M154.20,586.40L162.40,586.40" stroke="#000" stroke-width="1.55"/>
<text transform="translate(40.80,748.80) rotate(-90)" x="0" y="0" font-size="19" textLength="128.3" lengthAdjust="spacingAndGlyphs">iFGF23 (pg/mL)</text>
<text x="161.70" y="804.30" font-size="19" text-anchor="middle" font-weight="normal">3 mo</text>
<rect x="354.50" y="667.50" width="30.00" height="112.60" fill="#eed5e8" stroke="#333" stroke-width="1.0"/>
<rect x="400.50" y="719.50" width="30.00" height="60.60" fill="#cf4c9c" stroke="#333" stroke-width="1.0"/>
<line x1="369.50" y1="643.50" x2="369.50" y2="689.50" stroke="#1a1a1a" stroke-width="1.05" stroke-linecap="butt"/>
<line x1="361.00" y1="643.50" x2="378.00" y2="643.50" stroke="#1a1a1a" stroke-width="1.05" stroke-linecap="butt"/>
<line x1="361.00" y1="689.50" x2="378.00" y2="689.50" stroke="#1a1a1a" stroke-width="1.05" stroke-linecap="butt"/>
<line x1="416.50" y1="709.50" x2="416.50" y2="728.50" stroke="#1a1a1a" stroke-width="1.05" stroke-linecap="butt"/>
<line x1="408.00" y1="709.50" x2="425.00" y2="709.50" stroke="#1a1a1a" stroke-width="1.05" stroke-linecap="butt"/>
<line x1="408.00" y1="728.50" x2="425.00" y2="728.50" stroke="#1a1a1a" stroke-width="1.05" stroke-linecap="butt"/>
<circle cx="369.10" cy="605.40" r="3.6" fill="#fff" stroke="#111" stroke-width="1.0"/>
<circle cx="361.40" cy="668.10" r="3.6" fill="#fff" stroke="#111" stroke-width="1.0"/>
<circle cx="377.00" cy="673.00" r="3.6" fill="#fff" stroke="#111" stroke-width="1.0"/>
<circle cx="369.10" cy="718.40" r="3.6" fill="#fff" stroke="#111" stroke-width="1.0"/>
<circle cx="408.00" cy="704.00" r="3.6" fill="#fff" stroke="#111" stroke-width="1.0"/>
<circle cx="423.60" cy="700.80" r="3.6" fill="#fff" stroke="#111" stroke-width="1.0"/>
<circle cx="416.00" cy="730.00" r="3.6" fill="#fff" stroke="#111" stroke-width="1.0"/>
<circle cx="416.00" cy="739.20" r="3.6" fill="#fff" stroke="#111" stroke-width="1.0"/>
<line x1="326.50" y1="587.00" x2="326.50" y2="781.00" stroke="#333" stroke-width="1.0" stroke-linecap="butt"/>
<line x1="326.00" y1="780.50" x2="444.40" y2="780.50" stroke="#333" stroke-width="1.0" stroke-linecap="butt"/>
<line x1="326.50" y1="780.50" x2="334.80" y2="780.50" stroke="#333" stroke-width="1.0" stroke-linecap="butt"/>
<text x="320.90" y="785.50" font-size="18.8" text-anchor="end" font-weight="normal">0</text>
<line x1="326.50" y1="732.50" x2="334.80" y2="732.50" stroke="#333" stroke-width="1.0" stroke-linecap="butt"/>
<text x="320.90" y="737.45" font-size="18.8" text-anchor="end" font-weight="normal">250</text>
<line x1="326.50" y1="684.50" x2="334.80" y2="684.50" stroke="#333" stroke-width="1.0" stroke-linecap="butt"/>
<text x="320.90" y="689.40" font-size="18.8" text-anchor="end" font-weight="normal">500</text>
<line x1="326.50" y1="635.50" x2="334.80" y2="635.50" stroke="#333" stroke-width="1.0" stroke-linecap="butt"/>
<text x="320.90" y="641.35" font-size="18.8" text-anchor="end" font-weight="normal">750</text>
<line x1="326.50" y1="587.50" x2="334.80" y2="587.50" stroke="#333" stroke-width="1.0" stroke-linecap="butt"/>
<text x="320.90" y="593.30" font-size="18.8" text-anchor="end" font-weight="normal">1000</text>
<path d="M416.32,678.00L417.11,674.29A1.11,1.11 0 1 0 414.89,674.29L415.68,678.00ZM415.68,678.00L414.89,681.71A1.11,1.11 0 1 0 417.11,681.71L416.32,678.00ZM416.16,678.28L419.77,677.11A1.11,1.11 0 1 0 418.66,675.18L415.84,677.72ZM415.84,677.72L412.23,678.89A1.11,1.11 0 1 0 413.34,680.82L416.16,678.28ZM416.16,677.72L413.34,675.18A1.11,1.11 0 1 0 412.23,677.11L415.84,678.28ZM415.84,678.28L418.66,680.82A1.11,1.11 0 1 0 419.77,678.89L416.16,677.72Z" fill="#111"/>
<circle cx="416.00" cy="678.00" r="0.8" fill="#111"/>
<circle cx="395.0" cy="577.8" r="4.7" fill="none" stroke="#000" stroke-width="1.6"/>
<path d="M395.00,582.60L395.00,590.20M390.90,586.40L399.10,586.40" stroke="#000" stroke-width="1.55"/>
<text transform="translate(271.00,771.40) rotate(-90)" x="0" y="0" font-size="19" textLength="169.4" lengthAdjust="spacingAndGlyphs">C-ter FGF23 (pg/mL)</text>
<text x="393.40" y="804.50" font-size="19" text-anchor="middle" font-weight="normal">3 mo</text>
<rect x="458.6" y="623.9" width="224.2" height="122.6" fill="none" stroke="#555" stroke-width="1.4"/>
<rect x="474.0" y="632.5" width="14.6" height="14.3" fill="#b3dee6" stroke="#444" stroke-width="1.1"/>
<text x="497.8" y="647.1" font-size="19" font-weight="bold">Male WT</text>
<rect x="474.0" y="657.6" width="14.6" height="14.3" fill="#1f5eab" stroke="#444" stroke-width="1.1"/>
<text x="497.8" y="672.2" font-size="19" font-weight="bold">Male Mlac-<tspan font-style="italic">hydro</tspan></text>
<rect x="474.0" y="693.0" width="14.6" height="14.3" fill="#eed5e8" stroke="#444" stroke-width="1.1"/>
<text x="497.8" y="707.6" font-size="19" font-weight="bold">Female WT</text>
<rect x="474.0" y="717.7" width="14.6" height="14.3" fill="#cf4c9c" stroke="#444" stroke-width="1.1"/>
<text x="497.8" y="732.3" font-size="19" font-weight="bold">Female Mlac-<tspan font-style="italic">hydro</tspan></text>
</g>
</svg>
</body></html>
